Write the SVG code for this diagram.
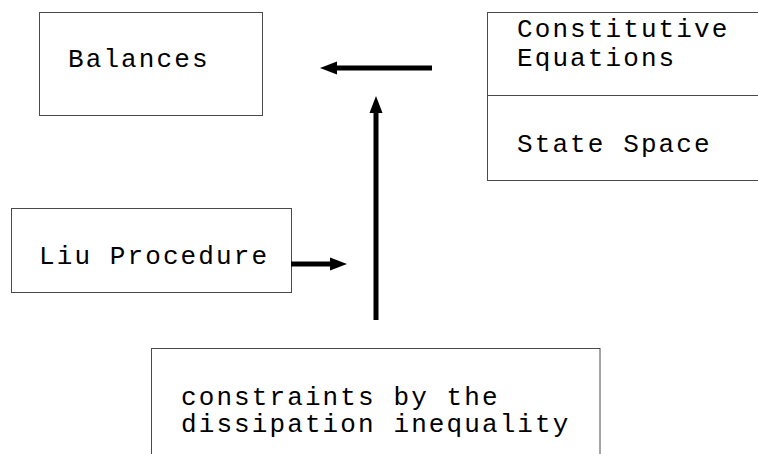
<svg xmlns="http://www.w3.org/2000/svg" width="758" height="454" viewBox="0 0 758 454">
  <style>
    .box { fill: #ffffff; stroke: #4a4a4a; stroke-width: 1; }
    .lbl { font-family: "Liberation Mono", "Courier New", monospace; font-size: 26px; letter-spacing: 2.1px; fill: #000000; }
    .conn { stroke: #000000; stroke-width: 5; fill: none; marker-end: url(#head); }
  </style>
  <defs>
    <marker id="head" markerUnits="userSpaceOnUse" markerWidth="17" markerHeight="13" refX="0" refY="6.5" orient="auto" overflow="visible">
      <path d="M0,0 L17,6.5 L0,13 z" fill="#000000"/>
    </marker>
  </defs>
  <rect width="758" height="454" fill="#ffffff"/>

  <g id="balances">
    <rect class="box" x="39.5" y="12.5" width="223" height="103"/>
    <text class="lbl" x="68" y="67">Balances</text>
  </g>

  <g id="constitutive">
    <rect class="box" x="487.5" y="12.5" width="280" height="168"/>
    <line x1="487.5" y1="95.5" x2="760" y2="95.5" stroke="#4a4a4a" stroke-width="1"/>
    <text class="lbl" x="517" y="37">Constitutive</text>
    <text class="lbl" x="517" y="65.5">Equations</text>
    <text class="lbl" x="517" y="152">State Space</text>
  </g>

  <g id="liu">
    <rect class="box" x="11.5" y="208.5" width="280" height="84"/>
    <text class="lbl" x="39" y="264">Liu Procedure</text>
  </g>

  <g id="constraints">
    <rect class="box" x="151.5" y="348.5" width="448.5" height="120"/>
    <text class="lbl" x="181" y="405">constraints by the</text>
    <text class="lbl" x="181" y="432">dissipation inequality</text>
  </g>

  <g id="connectors">
    <line class="conn" x1="432" y1="68" x2="337" y2="68"/>
    <line class="conn" x1="376" y1="320" x2="376" y2="113"/>
    <line class="conn" x1="291" y1="264" x2="330" y2="264"/>
  </g>
</svg>
